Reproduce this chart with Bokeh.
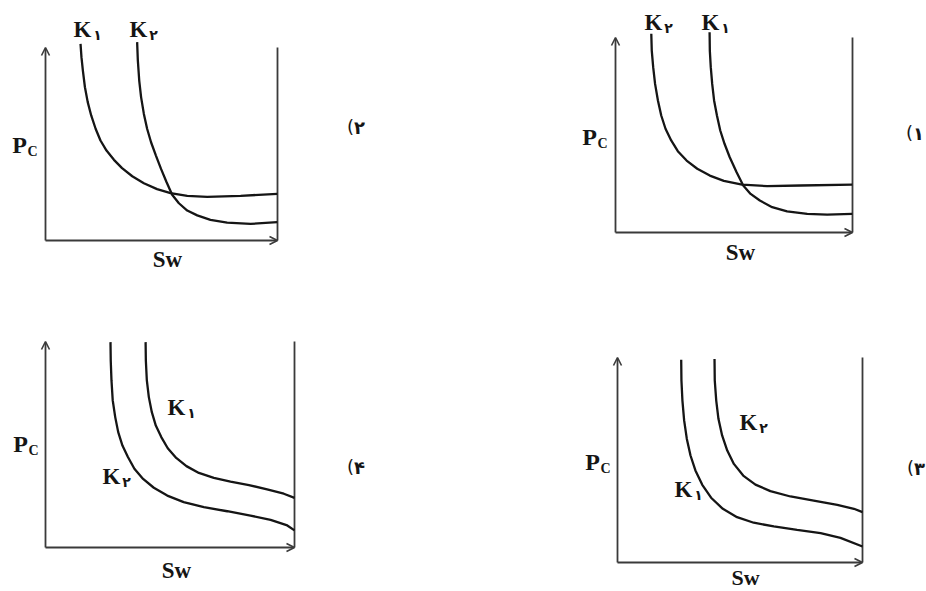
from bokeh.plotting import figure
from bokeh.models import Arrow, OpenHead, Label, Range1d
from bokeh.layouts import column, row
from bokeh.embed import file_html
from bokeh.resources import INLINE

# ---------------- data: normalised Sw (0..1) and Pc (0..1) ----------------
# option 2 (top-left)
opt2_k1_sw = [0.151, 0.155, 0.161, 0.170, 0.182, 0.197, 0.216, 0.237, 0.263, 0.295, 0.330, 0.374,
              0.424, 0.481, 0.539, 0.611, 0.697, 0.841, 0.999]
opt2_k1_pc = [1.019, 0.950, 0.881, 0.794, 0.717, 0.648, 0.579, 0.518, 0.466, 0.418, 0.375, 0.333,
              0.297, 0.266, 0.245, 0.231, 0.226, 0.231, 0.242]
opt2_k2_sw = [0.395, 0.398, 0.404, 0.412, 0.424, 0.438, 0.455, 0.476, 0.498, 0.522, 0.546, 0.575,
              0.611, 0.654, 0.711, 0.783, 0.884, 0.999]
opt2_k2_pc = [1.028, 0.933, 0.829, 0.743, 0.656, 0.579, 0.509, 0.440, 0.371, 0.302, 0.237, 0.193,
              0.155, 0.130, 0.107, 0.093, 0.086, 0.095]

# option 1 (top-right)
opt1_k2_sw = [0.151, 0.153, 0.159, 0.167, 0.179, 0.193, 0.211, 0.235, 0.263, 0.300, 0.345, 0.398,
              0.457, 0.534, 0.640, 0.781, 0.999]
opt1_k2_pc = [1.019, 0.933, 0.848, 0.762, 0.677, 0.600, 0.532, 0.472, 0.417, 0.369, 0.327, 0.292,
              0.265, 0.245, 0.238, 0.241, 0.246]
opt1_k1_sw = [0.397, 0.398, 0.402, 0.408, 0.416, 0.428, 0.442, 0.460, 0.482, 0.511, 0.539, 0.570,
              0.609, 0.661, 0.724, 0.809, 0.893, 0.999]
opt1_k1_pc = [1.027, 0.933, 0.848, 0.762, 0.677, 0.600, 0.523, 0.455, 0.386, 0.309, 0.241, 0.198,
              0.164, 0.130, 0.108, 0.096, 0.092, 0.096]

# option 4 (bottom-left)
opt4_k2_sw = [0.261, 0.262, 0.265, 0.270, 0.280, 0.292, 0.309, 0.331, 0.357, 0.392, 0.435, 0.489,
              0.555, 0.636, 0.730, 0.823, 0.904, 0.971, 1.000]
opt4_k2_pc = [0.997, 0.908, 0.811, 0.714, 0.633, 0.560, 0.495, 0.439, 0.382, 0.333, 0.290, 0.252,
              0.220, 0.196, 0.176, 0.155, 0.134, 0.107, 0.083]
opt4_k1_sw = [0.402, 0.403, 0.407, 0.415, 0.427, 0.443, 0.465, 0.491, 0.525, 0.566, 0.616, 0.676,
              0.743, 0.817, 0.890, 0.957, 1.000]
opt4_k1_pc = [0.997, 0.908, 0.811, 0.730, 0.657, 0.592, 0.536, 0.482, 0.435, 0.395, 0.362, 0.338,
              0.320, 0.303, 0.282, 0.261, 0.241]

# option 3 (bottom-right)
opt3_k1_sw = [0.260, 0.261, 0.265, 0.272, 0.283, 0.298, 0.318, 0.346, 0.382, 0.430, 0.488, 0.556,
              0.638, 0.733, 0.829, 0.910, 1.000]
opt3_k1_pc = [0.989, 0.888, 0.790, 0.693, 0.603, 0.522, 0.449, 0.379, 0.316, 0.262, 0.221, 0.194,
              0.176, 0.159, 0.143, 0.120, 0.078]
opt3_k2_sw = [0.396, 0.397, 0.403, 0.412, 0.427, 0.448, 0.475, 0.513, 0.563, 0.624, 0.706, 0.801,
              0.897, 0.965, 1.000]
opt3_k2_pc = [0.993, 0.888, 0.790, 0.701, 0.620, 0.546, 0.481, 0.424, 0.380, 0.348, 0.322, 0.302,
              0.281, 0.262, 0.246]

option_digits = ["\u06f1", "\u06f2", "\u06f3", "\u06f4"]
k_subs = {"1": "\u06f1", "2": "\u06f2"}

SERIF = "Liberation Serif"
INK = "#151515"
AXIS = "#3a3a3a"


def make_panel(fig_box, frame_box):
    fx, fy, fw, fh = fig_box
    ox, oy, rx, ty = frame_box
    W = rx - ox
    H = oy - ty
    lox = ox - fx
    loy = oy - fy
    p = figure(width=fw, height=fh,
               x_range=Range1d(-lox / W, (fw - lox) / W),
               y_range=Range1d((loy - fh) / H, loy / H),
               output_backend="svg", toolbar_location=None,
               x_axis_location=None, y_axis_location=None,
               min_border=0, title=None)
    p.outline_line_color = None
    p.background_fill_color = "white"
    p.border_fill_color = "white"
    p.xgrid.visible = False
    p.ygrid.visible = False

    def to_data(px, py):
        return (px - ox) / W, (oy - py) / H

    # axes with open arrow heads, and the right-hand boundary (Sw = 1)
    p.add_layout(Arrow(end=OpenHead(size=8, line_width=1.6, line_color=AXIS),
                       x_start=0, y_start=0, x_end=0, y_end=1,
                       line_width=1.8, line_color=AXIS))
    p.add_layout(Arrow(end=OpenHead(size=8, line_width=1.6, line_color=AXIS),
                       x_start=0, y_start=0, x_end=1.0, y_end=0,
                       line_width=1.8, line_color=AXIS))
    p.line([1, 1], [0, 1], line_width=1.8, line_color=AXIS)
    return p, to_data


def text(p, to_data, px, py, s, size, bold=True, font=SERIF, align="center"):
    x, y = to_data(px, py)
    p.add_layout(Label(x=x, y=y, text=s, text_font=font,
                       text_font_style="bold" if bold else "normal",
                       text_font_size=size, text_color=INK,
                       text_align=align, text_baseline="middle"))


def k_label(p, to_data, kpos, which):
    text(p, to_data, kpos[0], kpos[1], "K", "23px")
    text(p, to_data, kpos[0] + 15, kpos[1] + 5, k_subs[which], "14px", bold=True, font="DejaVu Sans")


def pc_label(p, to_data, ppos):
    text(p, to_data, ppos[0], ppos[1], "P", "24px")
    text(p, to_data, ppos[0] + 13, ppos[1] + 7, "C", "14px")


def option_label(p, to_data, px, py, digit):
    text(p, to_data, px, py, "(", "18px", bold=False, font="DejaVu Sans")
    text(p, to_data, px + 9, py + 1, digit, "18px", bold=True, font="DejaVu Sans")


def curve(p, sw, pc):
    p.line(sw, pc, line_width=2.3, line_color=INK)


# ---------------- option 2 (top-left) ----------------
p2, d2 = make_panel((0, 0, 463, 290), (45, 240, 277, 47))
curve(p2, opt2_k1_sw, opt2_k1_pc)
curve(p2, opt2_k2_sw, opt2_k2_pc)
k_label(p2, d2, (82, 29), "1")
k_label(p2, d2, (138, 29), "2")
pc_label(p2, d2, (19, 144))
text(p2, d2, 167, 259, "Sw", "23px")
option_label(p2, d2, 350, 126, option_digits[1])

# ---------------- option 1 (top-right) ----------------
p1, d1 = make_panel((463, 0, 463, 290), (615, 232, 852, 37))
curve(p1, opt1_k2_sw, opt1_k2_pc)
curve(p1, opt1_k1_sw, opt1_k1_pc)
k_label(p1, d1, (653, 22), "2")
k_label(p1, d1, (710, 22), "1")
pc_label(p1, d1, (589, 136))
text(p1, d1, 740, 252, "Sw", "23px")
option_label(p1, d1, 909, 132, option_digits[0])

# ---------------- option 4 (bottom-left) ----------------
p4, d4 = make_panel((0, 290, 463, 301), (45, 547, 294, 341))
curve(p4, opt4_k2_sw, opt4_k2_pc)
curve(p4, opt4_k1_sw, opt4_k1_pc)
k_label(p4, d4, (176, 407), "1")
k_label(p4, d4, (111, 476), "2")
pc_label(p4, d4, (20, 443))
text(p4, d4, 176, 570, "Sw", "23px")
option_label(p4, d4, 350, 466, option_digits[3])

# ---------------- option 3 (bottom-right) ----------------
p3, d3 = make_panel((463, 290, 463, 301), (617, 562, 862, 357))
curve(p3, opt3_k1_sw, opt3_k1_pc)
curve(p3, opt3_k2_sw, opt3_k2_pc)
k_label(p3, d3, (748, 422), "2")
k_label(p3, d3, (683, 489), "1")
pc_label(p3, d3, (592, 461))
text(p3, d3, 745, 577, "Sw", "22px")
option_label(p3, d3, 910, 467, option_digits[2])

layout = column(row(p2, p1), row(p4, p3))

with open("out.html", "w") as f:
    f.write(file_html(layout, INLINE))
